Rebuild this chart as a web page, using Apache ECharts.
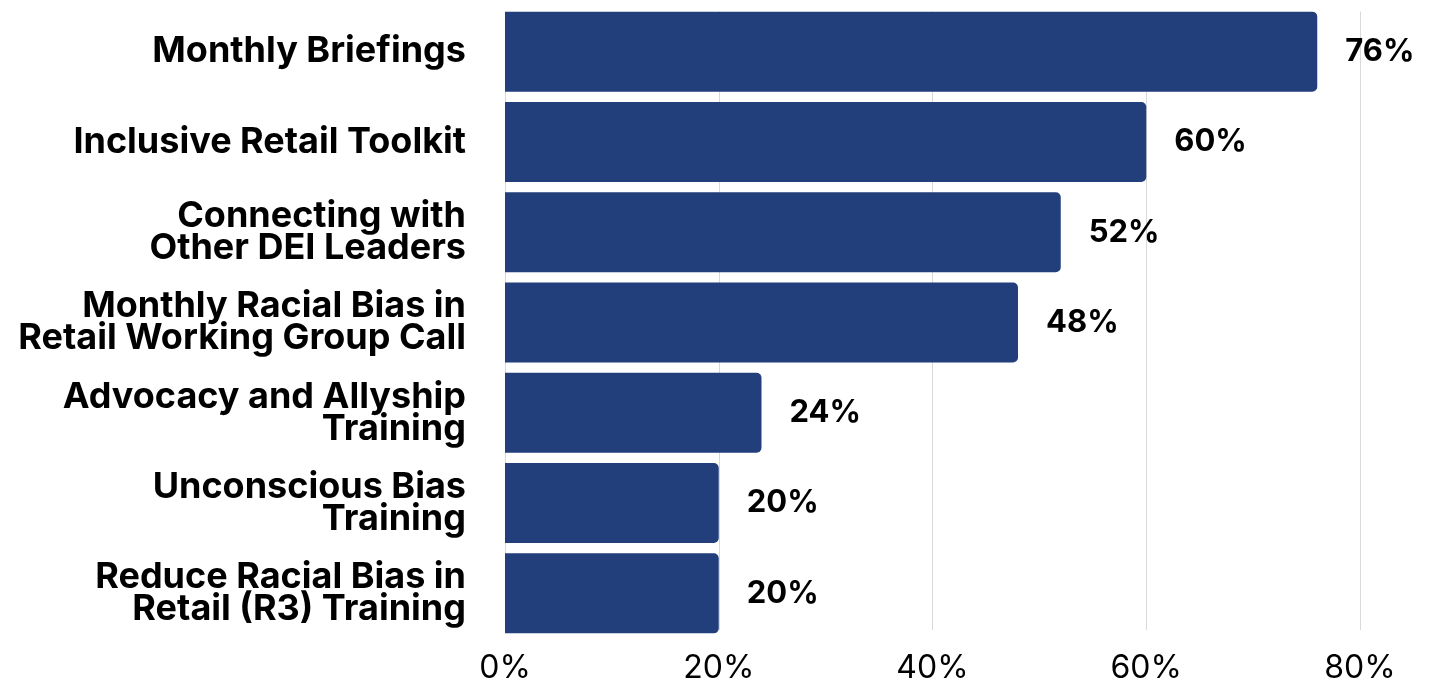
<!DOCTYPE html>
<html>
<head>
<meta charset="utf-8">
<script src="https://cdn.jsdelivr.net/npm/echarts@6/dist/echarts.min.js"></script>
<style>
  html, body { margin: 0; padding: 0; background: #ffffff; }
  #chart { width: 1429px; height: 684px; }
</style>
</head>
<body>
<div id="chart"></div>
<script>
// Survey: share of respondents who found each resource valuable
const categories = [
  'Monthly Briefings',
  'Inclusive Retail Toolkit',
  'Connecting with\nOther DEI Leaders',
  'Monthly Racial Bias in\nRetail Working Group Call',
  'Advocacy and Allyship\nTraining',
  'Unconscious Bias\nTraining',
  'Reduce Racial Bias in\nRetail (R3) Training'
];
const values = [76, 60, 52, 48, 24, 20, 20];
const tickValues = [0, 20, 40, 60, 80];

const FONT = 'Inter';
const BAR_COLOR = '#223f7c';

const chart = echarts.init(document.getElementById('chart'), null, { renderer: 'canvas' });

chart.setOption({
  backgroundColor: '#ffffff',
  animation: false,
  grid: [
    // bars
    { left: 505, right: 69, top: 6.5, height: 632, containLabel: false },
    // gridlines and percentage ticks
    { left: 505, right: 69, top: 11.5, height: 622, containLabel: false }
  ],
  xAxis: [
    {
      gridIndex: 0, type: 'value', min: 0, max: 80, interval: 20,
      axisLine: { show: false }, axisTick: { show: false },
      axisLabel: { show: false }, splitLine: { show: false }
    },
    {
      gridIndex: 1, type: 'value', min: 0, max: 80, interval: 20,
      axisLine: { show: false }, axisTick: { show: false },
      splitLine: { show: true, lineStyle: { color: '#d9d9d9', width: 1 } },
      axisLabel: {
        margin: 22,
        fontFamily: FONT, fontSize: 32, fontWeight: 400, color: '#000000',
        formatter: v => tickValues.includes(v) ? v + '%' : ''
      }
    }
  ],
  yAxis: [
    {
      gridIndex: 0, type: 'category', data: categories, inverse: true,
      axisLine: { show: false }, axisTick: { show: false },
      axisLabel: {
        margin: 39,
        fontFamily: FONT, fontSize: 36, fontWeight: 700, color: '#000000',
        lineHeight: 32, align: 'right'
      }
    },
    {
      gridIndex: 1, type: 'category', data: categories, inverse: true, show: false
    }
  ],
  series: [
    {
      type: 'bar',
      xAxisIndex: 0, yAxisIndex: 0,
      data: values,
      barWidth: 80,
      itemStyle: { color: BAR_COLOR, borderRadius: [0, 5, 5, 0] },
      label: {
        show: true, position: 'right', distance: 28,
        fontFamily: FONT, fontSize: 31, fontWeight: 700, color: '#000000',
        formatter: p => p.value + '%'
      },
      z: 3
    },
    {
      // empty series keeps the gridline axes alive
      type: 'bar', xAxisIndex: 1, yAxisIndex: 1, data: [], silent: true
    }
  ]
});
</script>
</body>
</html>
